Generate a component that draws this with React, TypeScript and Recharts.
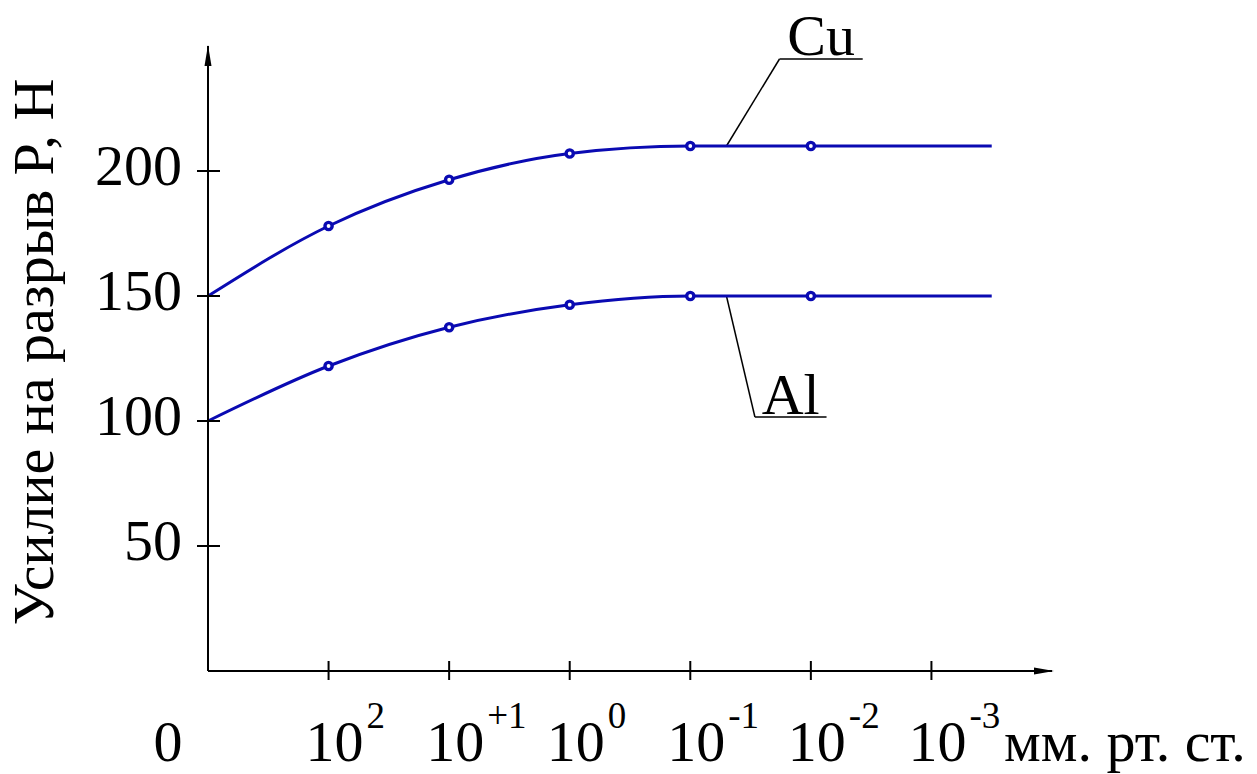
import { LineChart, Line, XAxis, YAxis, ReferenceLine, ReferenceDot } from 'recharts'

const positions = [0, 1, 2, 3, 4, 5, 6.5]
const cuValues = [150, 178, 196.5, 207, 210, 210, 210]
const alValues = [100, 122, 137.5, 146.5, 150, 150, 150]
const markerPositions = [1, 2, 3, 4, 5]

const xTicks = [0, 1, 2, 3, 4, 5, 6]
const xTickBase = ['0', '10', '10', '10', '10', '10', '10']
const xTickSup = ['', '2', '+1', '0', '-1', '-2', '-3']
const yTicks = [50, 100, 150, 200]

const FONT = '"Liberation Serif", "Times New Roman", serif'
const BLUE = '#0a0ab2'

const data = positions.map((p, i) => ({ p, cu: cuValues[i], al: alValues[i] }))

function XTick({ x, y, payload }: any) {
  const i = xTicks.indexOf(payload.value)
  if (payload.value === 0) {
    return (
      <text x={x - 40} y={y + 90} textAnchor="middle" fontSize={58} fontFamily={FONT} fill="#000">
        {xTickBase[i]}
      </text>
    )
  }
  return (
    <g>
      <line x1={x} x2={x} y1={y - 10} y2={y + 9} stroke="#000" strokeWidth={2} />
      <text x={x - 23} y={y + 90} fontSize={58} fontFamily={FONT} fill="#000">
        {xTickBase[i]}
        <tspan fontSize={37} dx={3} dy={-33}>{xTickSup[i]}</tspan>
      </text>
    </g>
  )
}

function YTick({ x, y, payload }: any) {
  return (
    <g>
      <line x1={x - 11} x2={x + 12} y1={y} y2={y} stroke="#000" strokeWidth={2} />
      <text x={x - 26} y={y + 14} textAnchor="end" fontSize={58} fontFamily={FONT} fill="#000">
        {payload.value}
      </text>
    </g>
  )
}

function MarkerDot(props: any) {
  const { cx, cy, payload, index } = props
  if (!markerPositions.includes(payload.p)) return <g key={index} />
  return (
    <circle key={index} cx={cx} cy={cy} r={3.6} fill="#fff" stroke={BLUE} strokeWidth={3.4} />
  )
}

function ArrowUp({ cx, cy }: any) {
  return <polygon points={`${cx},${cy - 1} ${cx - 3.5},${cy + 20} ${cx + 3.5},${cy + 20}`} fill="#000" />
}

function ArrowRight({ cx, cy }: any) {
  return <polygon points={`${cx + 2},${cy} ${cx - 18},${cy - 3.5} ${cx - 18},${cy + 3.5}`} fill="#000" />
}

export default function App() {
  return (
    <div style={{ position: 'absolute', left: 0, top: 0, background: '#fff' }}>
      <LineChart
        width={1257}
        height={774}
        data={data}
        margin={{ top: 46, right: 205, bottom: 0, left: 0 }}
      >
        <XAxis
          dataKey="p"
          type="number"
          domain={[0, 7]}
          ticks={xTicks}
          height={103}
          tickSize={0}
          tickMargin={0}
          tickLine={false}
          axisLine={{ stroke: '#000', strokeWidth: 2 }}
          tick={<XTick />}
          interval={0}
          label={{
            content: ({ viewBox }: any) => (
              <text
                x={viewBox.x + viewBox.width - 48}
                y={viewBox.y + 90}
                fontSize={58}
                fontFamily={FONT}
                fill="#000"
              >
                мм. рт. ст.
              </text>
            ),
          }}
        />
        <YAxis
          type="number"
          domain={[0, 250]}
          ticks={yTicks}
          width={208}
          tickSize={0}
          tickMargin={0}
          tickLine={false}
          axisLine={{ stroke: '#000', strokeWidth: 2 }}
          tick={<YTick />}
          interval={0}
          label={{
            content: () => (
              <text
                x={53}
                y={352}
                transform="rotate(-90, 53, 352)"
                textAnchor="middle"
                fontSize={58}
                fontFamily={FONT}
                fill="#000"
              >
                Усилие на разрыв P, H
              </text>
            ),
          }}
        />
        <ReferenceDot x={0} y={250} r={0} ifOverflow="visible" shape={<ArrowUp />} />
        <ReferenceDot x={7} y={0} r={0} ifOverflow="visible" shape={<ArrowRight />} />

        <ReferenceLine
          segment={[{ x: 4.3, y: 210 }, { x: 4.74, y: 244.8 }]}
          stroke="#000"
          strokeWidth={1.5}
          ifOverflow="visible"
        />
        <ReferenceLine
          segment={[{ x: 4.74, y: 244.8 }, { x: 5.43, y: 244.8 }]}
          stroke="#000"
          strokeWidth={1.5}
          ifOverflow="visible"
          label={{ value: 'Cu', position: 'top', offset: 4, fontSize: 58, fontFamily: FONT, fill: '#000' }}
        />
        <ReferenceLine
          segment={[{ x: 4.3, y: 150 }, { x: 4.536, y: 101.6 }]}
          stroke="#000"
          strokeWidth={1.5}
          ifOverflow="visible"
        />
        <ReferenceLine
          segment={[{ x: 4.536, y: 101.6 }, { x: 5.13, y: 101.6 }]}
          stroke="#000"
          strokeWidth={1.5}
          ifOverflow="visible"
          label={{ value: 'Al', position: 'top', offset: 3, fontSize: 58, fontFamily: FONT, fill: '#000' }}
        />

        <Line
          dataKey="cu"
          type="monotone"
          stroke={BLUE}
          strokeWidth={3}
          dot={MarkerDot}
          activeDot={false}
          isAnimationActive={false}
        />
        <Line
          dataKey="al"
          type="monotone"
          stroke={BLUE}
          strokeWidth={3}
          dot={MarkerDot}
          activeDot={false}
          isAnimationActive={false}
        />
      </LineChart>
    </div>
  )
}
